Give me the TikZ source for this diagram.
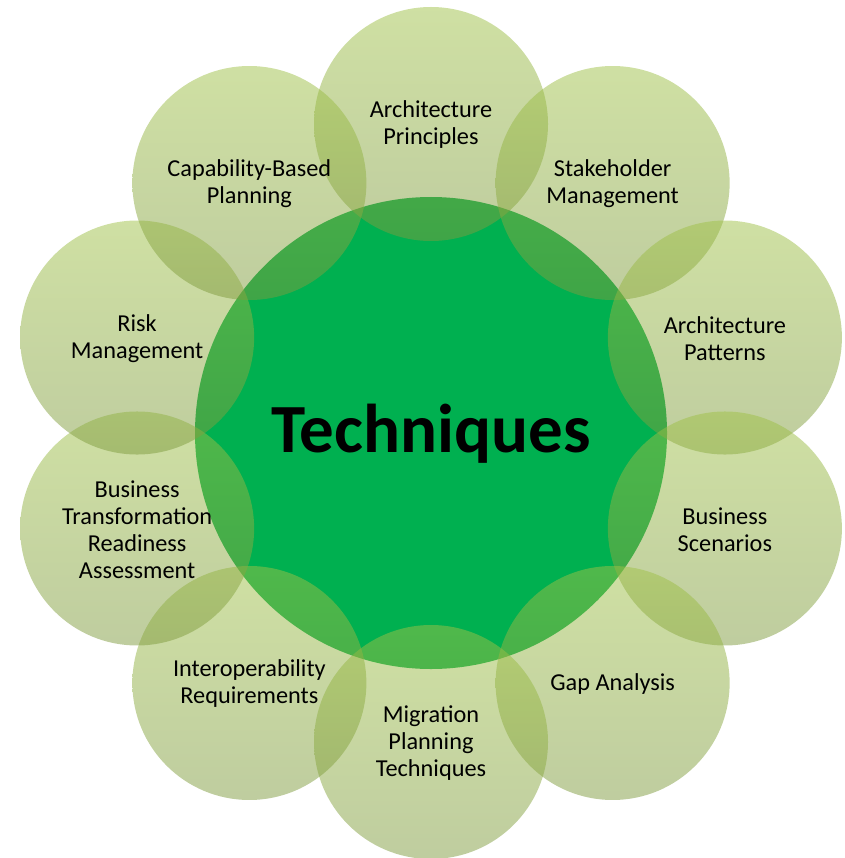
\documentclass[tikz,border=0pt]{standalone}
\usepackage{fontspec}
\usetikzlibrary{calc}
\setmainfont{Carlito}
\definecolor{cgreen}{RGB}{0,176,80}
\definecolor{ctop}{RGB}{159,193,71}
\definecolor{cbot}{RGB}{127,155,63}
\begin{document}
\begin{tikzpicture}[x=1pt,y=1pt,
  ring/.style={top color=ctop, bottom color=cbot, fill opacity=0.5},
  lbl/.style={font=\fontsize{24.3}{27}\selectfont, align=center, text=black, inner sep=0pt},
  title/.style={font=\fontsize{69}{72}\selectfont\bfseries, text=black, inner sep=0pt}]
\useasboundingbox (0,-858) rectangle (844,0);
\begin{scope}[shift={(431,-433)}]
  \fill[cgreen] (0,0) circle (236);
  \foreach \a in {90,54,...,-234} \shade[ring] (\a:309) circle (117);
  \node[title] (t) at (0,-1) {Techniques};
  \node[lbl] (l1) at ($(90:309)+(0,-1)$) {Architecture\\Principles};
  \node[lbl] (l2) at ($(54:309)+(0,-1)$) {Stakeholder\\Management};
  \node[lbl] (l3) at ($(18:309)+(0,-1)$) {Architecture\\Patterns};
  \node[lbl] (l4) at ($(-18:309)+(0,-1)$) {Business\\Scenarios};
  \node[lbl] (l5) at ($(-54:309)+(0,-1)$) {Gap Analysis};
  \node[lbl] (l6) at ($(-90:309)+(0,-1)$) {Migration\\Planning\\Techniques};
  \node[lbl] (l7) at ($(-126:309)+(0,-1)$) {Interoperability\\Requirements};
  \node[lbl] (l8) at ($(-162:309)+(0,-1)$) {Business\\Transformation\\Readiness\\Assessment};
  \node[lbl] (l9) at ($(162:309)+(0,-1)$) {Risk\\Management};
  \node[lbl] (l10) at ($(126:309)+(0,-1)$) {Capability-Based\\Planning};
\end{scope}
\end{tikzpicture}
\end{document}
